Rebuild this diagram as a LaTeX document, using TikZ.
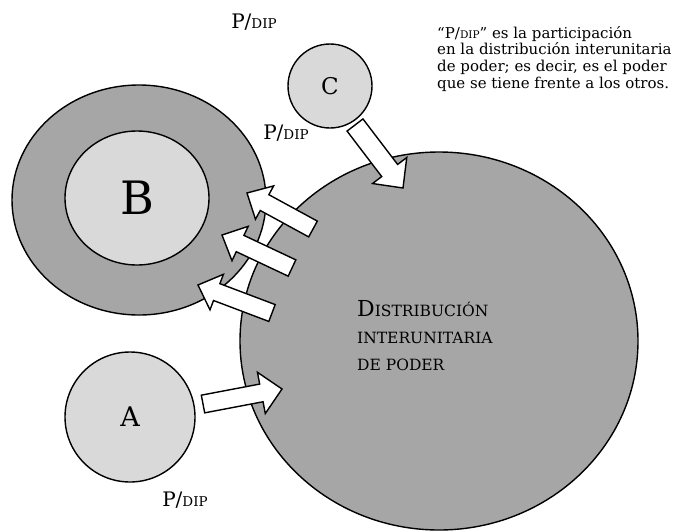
\documentclass[tikz,border=0pt]{standalone}
\usepackage{fontspec}
\setmainfont{DejaVu Serif}
\usetikzlibrary{shapes.geometric,calc}
\definecolor{darkg}{HTML}{A6A6A6}
\definecolor{lightg}{HTML}{D9D9D9}
\newcommand\fsz[1]{\fontsize{#1}{#1}\selectfont}
\newcommand\pdip[2]{{\fsz{#1}P/\fsz{#2}DIP}}
\newcommand\blockarr[5]{%
  \path ($(#2)!#5!(#1)$) coordinate (hb);
  \draw[arr] ($(#1)!#3!90:(#2)$) -- ($(hb)!#3!-90:(#1)$) -- ($(hb)!#4!-90:(#1)$) -- (#2)
    -- ($(hb)!#4!90:(#1)$) -- ($(hb)!#3!90:(#1)$) -- ($(#1)!#3!-90:(#2)$) -- cycle;}
\begin{document}
\begin{tikzpicture}[x=1pt,y=-1pt,
  disc/.style={ellipse, draw=black, line width=1.4pt, inner sep=0pt},
  arr/.style={draw=black, fill=white, line width=1.4pt, line join=miter},
  lbl/.style={inner sep=0pt}]
\useasboundingbox (0,0) rectangle (673,531);
% discs
\node[disc, fill=darkg, minimum width=254, minimum height=230] (bring) at (139,200) {};
\node[disc, fill=lightg, minimum width=144, minimum height=134] (b) at (137,198) {\fsz{46}B};
\node[disc, fill=lightg, minimum width=130, minimum height=130] (a) at (130,417) {\fsz{27}A};
\node[disc, fill=lightg, minimum width=84, minimum height=84] (c) at (330,86) {\fsz{23}C};
\node[disc, fill=darkg, minimum width=398, minimum height=378] (dip) at (439,341) {};
\node[lbl, anchor=west, align=left] (diptext) at (357,336)
  {{\fsz{22}D}{\fsz{15.5}ISTRIBUCIÓN}\\[15pt]{\fsz{15.5}INTERUNITARIA}\\[15pt]{\fsz{15.5}DE PODER}};
% labels
\node[lbl] (lc) at (254,22) {\pdip{20}{13.5}};
\node[lbl] (lb) at (286,133) {\pdip{20}{13.5}};
\node[lbl] (la) at (185,500) {\pdip{20}{13.5}};
\node[lbl, anchor=north west, align=left, font={\fontsize{15}{16.7}\selectfont}] (note) at (437,26)
  {“\pdip{15}{10.5}” es la participación\\
   en la distribución interunitaria\\
   de poder; es decir, es el poder\\
   que se tiene frente a los otros.};
% arrow end points
\coordinate (ct) at (355,125); \coordinate (cp) at (403,188);
\coordinate (at) at (203,404); \coordinate (ap) at (282,389);
\coordinate (b1t) at (313,229); \coordinate (b1p) at (247,193);
\coordinate (b2t) at (292,268); \coordinate (b2p) at (222,235);
\coordinate (b3t) at (272,313); \coordinate (b3p) at (198,285);
\blockarr{ct}{cp}{10pt}{21.5pt}{22pt}
\blockarr{at}{ap}{9pt}{21pt}{21pt}
\blockarr{b1t}{b1p}{9pt}{19pt}{20pt}
\blockarr{b2t}{b2p}{9pt}{19pt}{20pt}
\blockarr{b3t}{b3p}{9pt}{19pt}{20pt}
\end{tikzpicture}
\end{document}
